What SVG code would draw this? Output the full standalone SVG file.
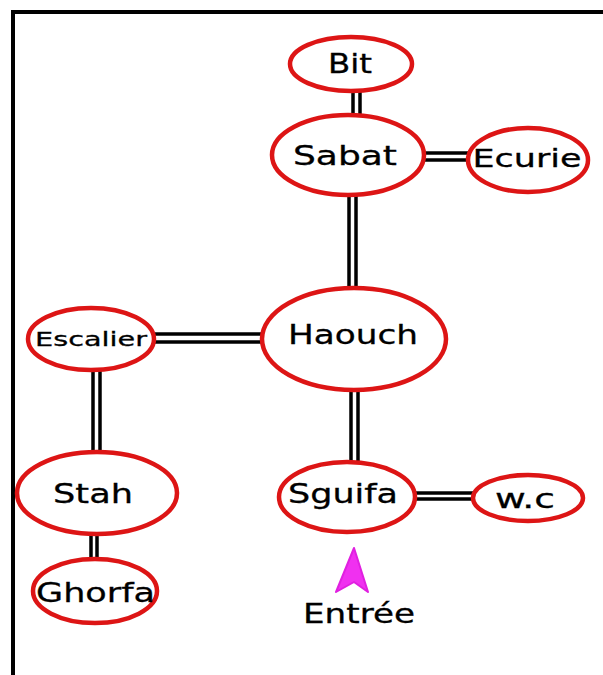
<svg xmlns="http://www.w3.org/2000/svg" width="603" height="675" viewBox="0 0 603 675">
<style>
.n{fill:#fff;stroke:#dd1515;stroke-width:4.5}
.t{font-family:"DejaVu Sans",sans-serif;fill:#000;stroke:#000;stroke-width:0.3;text-anchor:middle;font-size:27px}
.c line{stroke:#000;stroke-width:3.5}
</style>
<rect width="603" height="675" fill="#fff"/>
<g id="frame" stroke="#000" stroke-width="4" fill="none">
<line x1="11" y1="12" x2="603" y2="12"/>
<line x1="13" y1="10" x2="13" y2="675"/>
</g>
<g class="c" id="connectors">
<line x1="353" y1="90" x2="353" y2="117"/><line x1="360" y1="90" x2="360" y2="117"/>
<line x1="422" y1="153" x2="470" y2="153"/><line x1="422" y1="160" x2="470" y2="160"/>
<line x1="349" y1="193" x2="349" y2="290"/><line x1="356" y1="193" x2="356" y2="290"/>
<line x1="152" y1="334" x2="265" y2="334"/><line x1="152" y1="342" x2="265" y2="342"/>
<line x1="93" y1="368" x2="93" y2="454"/><line x1="100" y1="368" x2="100" y2="454"/>
<line x1="351" y1="388" x2="351" y2="464"/><line x1="358" y1="388" x2="358" y2="464"/>
<line x1="413" y1="493" x2="475" y2="493"/><line x1="413" y1="499" x2="475" y2="499"/>
<line x1="91" y1="532" x2="91" y2="561"/><line x1="97" y1="532" x2="97" y2="561"/>
</g>
<g id="bit"><ellipse class="n" cx="351" cy="64" rx="61" ry="27"/><text class="t" x="350" y="73" style="font-size:26px" textLength="44" lengthAdjust="spacingAndGlyphs">Bit</text></g>
<g id="sabat"><ellipse class="n" cx="348" cy="155" rx="76" ry="40"/><text class="t" x="345" y="165" style="font-size:26px" textLength="104" lengthAdjust="spacingAndGlyphs">Sabat</text></g>
<g id="ecurie"><ellipse class="n" cx="528" cy="160" rx="60" ry="32"/><text class="t" x="527" y="167" style="font-size:25px" textLength="109" lengthAdjust="spacingAndGlyphs">Ecurie</text></g>
<g id="haouch"><ellipse class="n" cx="354" cy="339" rx="92" ry="51"/><text class="t" x="353" y="344" textLength="130" lengthAdjust="spacingAndGlyphs">Haouch</text></g>
<g id="escalier"><ellipse class="n" cx="91" cy="339" rx="63" ry="31"/><text class="t" x="91" y="346" style="font-size:20px" textLength="112" lengthAdjust="spacingAndGlyphs">Escalier</text></g>
<g id="stah"><ellipse class="n" cx="97" cy="493" rx="80" ry="41"/><text class="t" x="93" y="503" textLength="80" lengthAdjust="spacingAndGlyphs">Stah</text></g>
<g id="ghorfa"><ellipse class="n" cx="95" cy="591" rx="62" ry="32"/><text class="t" x="95.5" y="602" textLength="119" lengthAdjust="spacingAndGlyphs">Ghorfa</text></g>
<g id="sguifa"><ellipse class="n" cx="347" cy="497" rx="68" ry="35"/><text class="t" x="343" y="503" textLength="110" lengthAdjust="spacingAndGlyphs">Sguifa</text></g>
<g id="wc"><ellipse class="n" cx="528" cy="498" rx="55" ry="23"/><text class="t" x="525" y="508" textLength="60" lengthAdjust="spacingAndGlyphs">w.c</text></g>
<g id="entree">
<polygon points="354,548 368,592 354,582 336,592" fill="#f030f0" stroke="#e020e0" stroke-width="2" stroke-linejoin="round"/>
<text class="t" x="359" y="623" textLength="112" lengthAdjust="spacingAndGlyphs">Entrée</text>
</g>
</svg>
